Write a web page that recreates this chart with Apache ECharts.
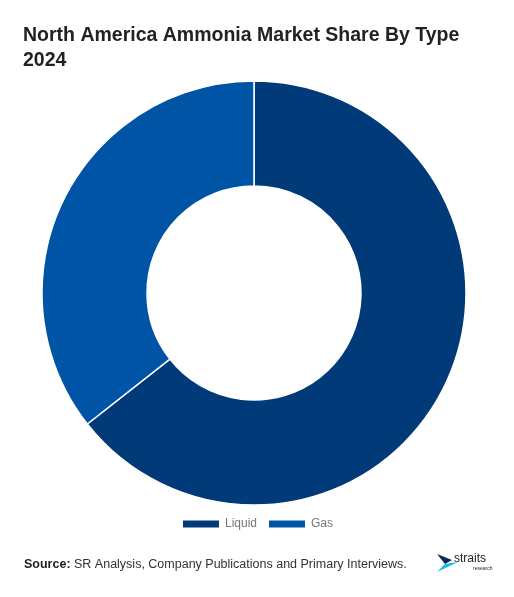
<!DOCTYPE html>
<html>
<head>
<meta charset="utf-8">
<script src="https://cdn.jsdelivr.net/npm/echarts@6/dist/echarts.min.js"></script>
<style>
  html, body { margin: 0; padding: 0; background: #fff; }
  #chart { width: 514px; height: 597px; }
</style>
</head>
<body>
<div id="chart"></div>
<script>
var types = ['Liquid', 'Gas'];
var shares = [64.4, 35.6];
var colors = ['#003a78', '#0054a6'];

var myChart = echarts.init(document.getElementById('chart'));
var option = {
    backgroundColor: '#fff',
    animation: false,
    color: colors,
    title: {
        text: 'North America Ammonia Market Share By Type\n2024',
        left: 18,
        top: 18,
        textStyle: { fontFamily: 'Liberation Sans', fontSize: 19.5, fontWeight: 'bold', color: '#222', lineHeight: 25 }
    },
    legend: {
        bottom: 62,
        left: 'center',
        itemWidth: 38,
        itemHeight: 9,
        itemGap: 10,
        icon: 'rect',
        textStyle: { fontFamily: 'Liberation Sans', fontSize: 12, color: '#777' },
        data: types
    },
    series: [{
        type: 'pie',
        center: [254, 293],
        radius: [107, 212],
        startAngle: 90,
        clockwise: true,
        label: { show: false },
        labelLine: { show: false },
        itemStyle: { borderColor: '#fff', borderWidth: 1.5 },
        emphasis: { disabled: true },
        data: types.map(function (t, i) { return { name: t, value: shares[i] }; })
    }],
    graphic: [
        {
            type: 'text', left: 24, top: 558,
            style: {
                rich: { b: { fontWeight: 'bold', fontFamily: 'Liberation Sans', fontSize: 12.5, fill: '#222' },
                        n: { fontFamily: 'Liberation Sans', fontSize: 12.5, fill: '#333' } },
                text: '{b|Source:}{n| SR Analysis, Company Publications and Primary Interviews.}'
            }
        },
        { type: 'polygon', shape: { points: [[437, 554], [452, 560], [445, 564]] }, style: { fill: '#0a2a55' } },
        { type: 'polygon', shape: { points: [[445, 564], [458, 562], [437, 572]] }, style: { fill: '#1ab8f0' } },
        { type: 'text', left: 454, top: 553, style: { text: 'straits', fontFamily: 'Liberation Sans', fontSize: 12, fill: '#222' } },
        { type: 'text', left: 473, top: 566, style: { text: 'research', fontFamily: 'Liberation Sans', fontSize: 5, fill: '#222' } }
    ]
};
myChart.setOption(option);
window.addEventListener('resize', function () { myChart.resize(); });
</script>
</body>
</html>
